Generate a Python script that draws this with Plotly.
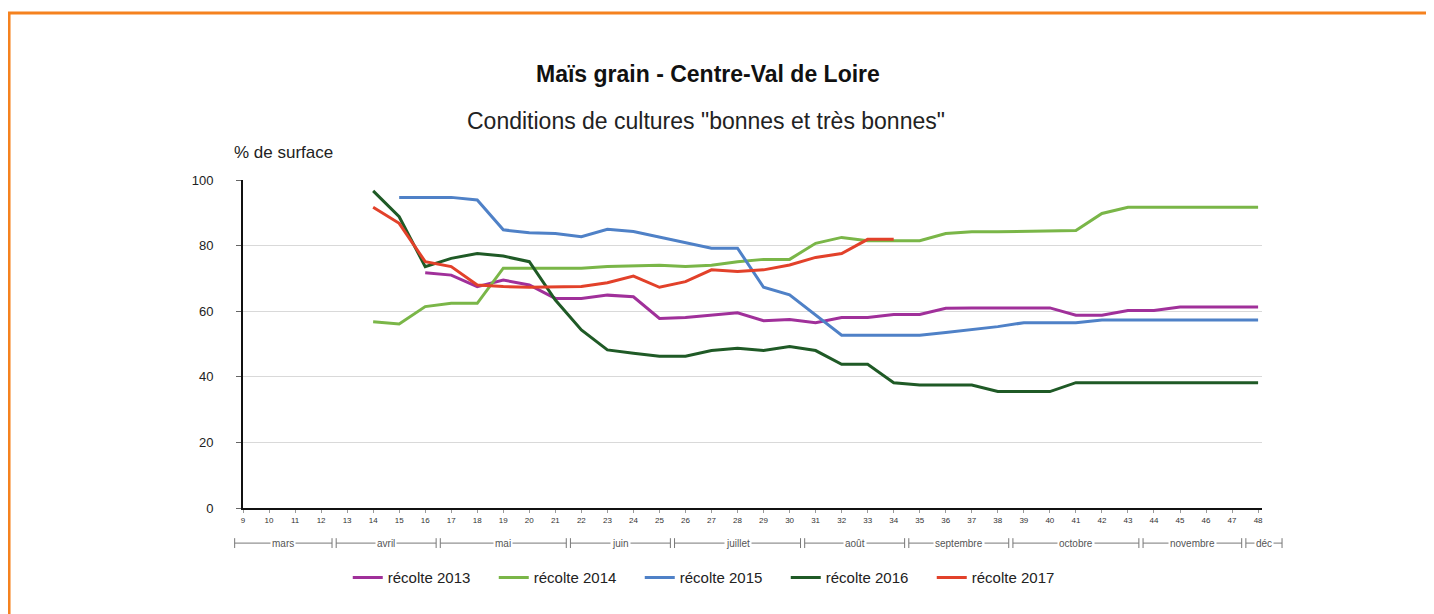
import plotly.graph_objects as go

# Maïs grain - Centre-Val de Loire : conditions "bonnes et très bonnes"
semaines = list(range(9, 49))

sem_2013 = list(range(16, 49))
val_2013 = [71.7, 71.0, 67.5, 69.5, 68.0, 63.9, 63.9, 64.9, 64.4, 57.8, 58.1, 58.8,
            59.5, 57.1, 57.5, 56.5, 58.1, 58.1, 59.0, 59.0, 60.9, 61.0, 61.0, 61.0,
            61.0, 58.8, 58.8, 60.2, 60.2, 61.3, 61.3, 61.3, 61.3]

sem_2014 = list(range(14, 49))
val_2014 = [56.8, 56.1, 61.4, 62.4, 62.4, 73.1, 73.1, 73.1, 73.1, 73.6, 73.8, 74.0,
            73.6, 74.0, 75.1, 75.8, 75.8, 80.7, 82.5, 81.5, 81.5, 81.5, 83.7, 84.2,
            84.2, 84.3, 84.5, 84.6, 89.8, 91.7, 91.7, 91.7, 91.7, 91.7, 91.7]

sem_2015 = list(range(15, 49))
val_2015 = [94.7, 94.7, 94.7, 93.9, 84.8, 83.9, 83.7, 82.7, 85.0, 84.3, 82.6, 81.1,
            79.2, 79.2, 67.3, 65.0, 58.8, 52.7, 52.7, 52.7, 52.7, 53.5, 54.3, 55.3,
            56.5, 56.5, 56.5, 57.3, 57.3, 57.3, 57.3, 57.3, 57.3, 57.3]

sem_2016 = list(range(14, 49))
val_2016 = [96.7, 88.8, 73.6, 76.1, 77.6, 76.8, 75.1, 63.4, 54.3, 48.2, 47.2, 46.3,
            46.3, 48.0, 48.7, 48.0, 49.2, 48.0, 43.8, 43.8, 38.2, 37.5, 37.5, 37.5,
            35.5, 35.5, 35.5, 38.2, 38.2, 38.2, 38.2, 38.2, 38.2, 38.2, 38.2]

sem_2017 = list(range(14, 35))
val_2017 = [91.7, 86.8, 75.1, 73.6, 68.0, 67.5, 67.3, 67.3, 67.5, 68.7, 70.7, 67.3,
            69.0, 72.6, 72.1, 72.6, 74.1, 76.4, 77.6, 81.9, 81.9]

mois = ["mars", "avril", "mai", "juin", "juillet", "août", "septembre",
        "octobre", "novembre", "déc"]
bornes_mois = [8.6, 12.5, 16.5, 21.5, 25.5, 30.5, 34.5, 38.5, 43.5, 47.45, 49.0]

series = [
    ("récolte 2013", sem_2013, val_2013, "#a0309a"),
    ("récolte 2014", sem_2014, val_2014, "#7ab648"),
    ("récolte 2015", sem_2015, val_2015, "#4f81c7"),
    ("récolte 2016", sem_2016, val_2016, "#1f5a26"),
    ("récolte 2017", sem_2017, val_2017, "#e2412a"),
]

FONT = "Liberation Sans, Arial, sans-serif"
X_RANGE = [9, 48.15]


def to_paper(w):
    # week -> paper x, so month brackets past the axis end are not clipped
    return (w - X_RANGE[0]) / (X_RANGE[1] - X_RANGE[0])


fig = go.Figure()
for nom, x, y, couleur in series:
    fig.add_trace(go.Scatter(x=x, y=y, name=nom, mode="lines",
                             line=dict(color=couleur, width=3)))

# month brackets under the week axis
y_br = -0.107
for i, m in enumerate(mois):
    x0 = to_paper(bornes_mois[i] + 0.08)
    x1 = to_paper(bornes_mois[i + 1] - 0.08)
    fig.add_shape(type="line", xref="paper", yref="paper", x0=x0, x1=x1, y0=y_br, y1=y_br,
                  line=dict(color="#777", width=1))
    for xe in (x0, x1):
        fig.add_shape(type="line", xref="paper", yref="paper", x0=xe, x1=xe,
                      y0=y_br - 0.015, y1=y_br + 0.015, line=dict(color="#777", width=1))
    fig.add_annotation(x=(x0 + x1) / 2, y=y_br, xref="paper", yref="paper", text=m,
                       xanchor="center", yanchor="middle",
                       showarrow=False, bgcolor="white", borderpad=1,
                       font=dict(family=FONT, size=10, color="#555"))

# titles
fig.add_annotation(x=0.456, y=1.323, xref="paper", yref="paper", yanchor="middle",
                   text="<b>Maïs grain - Centre-Val de Loire</b>", showarrow=False,
                   font=dict(family=FONT, size=23, color="#111"))
fig.add_annotation(x=0.454, y=1.180, xref="paper", yref="paper", yanchor="middle",
                   text='Conditions de cultures "bonnes et très bonnes"', showarrow=False,
                   font=dict(family=FONT, size=23, color="#222"))
fig.add_annotation(x=-0.011, y=1.085, xref="paper", yref="paper", xanchor="left",
                   yanchor="middle", text="% de surface", showarrow=False,
                   font=dict(family=FONT, size=17, color="#222"))

# orange frame
fig.add_shape(type="rect", xref="paper", yref="paper", x0=-0.2296, x1=1.2, y0=-0.4, y1=1.509,
              line=dict(color="#f5821f", width=3))

fig.update_layout(
    width=1434, height=614,
    margin=dict(l=235, r=180, t=172, b=114),
    paper_bgcolor="white", plot_bgcolor="white",
    font=dict(family=FONT, color="#222"),
    showlegend=True,
    legend=dict(orientation="h", x=0.461, xanchor="center", y=-0.213, yanchor="middle",
                font=dict(family=FONT, size=15, color="#222"),
                entrywidth=101, entrywidthmode="pixels", itemwidth=30),
    xaxis=dict(range=X_RANGE, tickmode="array", tickvals=semaines,
               ticktext=[str(s) for s in semaines], tickfont=dict(size=8, color="#333"),
               showgrid=False, zeroline=False, showline=True, linecolor="#111", linewidth=2,
               ticks="outside", ticklen=3, tickcolor="#999"),
    yaxis=dict(range=[0, 100], tickvals=[0, 20, 40, 60, 80, 100],
               tickfont=dict(size=13, color="#222"), showgrid=True, gridcolor="#d9d9d9",
               gridwidth=1, zeroline=False, showline=True, linecolor="#111", linewidth=2,
               ticks="outside", ticklen=5, tickcolor="#666", ticklabelstandoff=20),
)

fig.write_html("out.html")
